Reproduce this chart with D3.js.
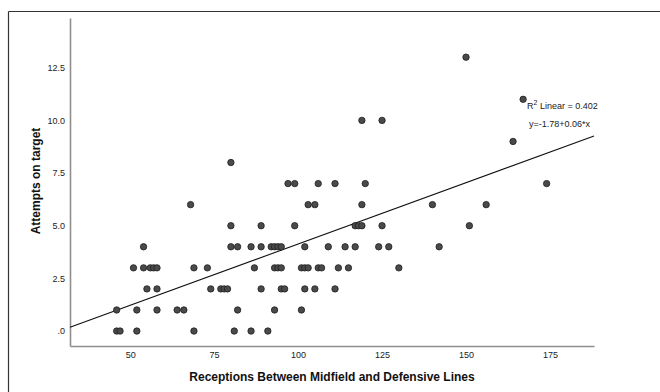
<!DOCTYPE html>
<html>
<head>
<meta charset="utf-8">
<script src="https://cdn.jsdelivr.net/npm/d3@7"></script>
<style>
  body { margin: 0; background: #fff; }
  svg { display: block; font-family: "Liberation Sans", Arial, sans-serif; }
  .tick-label { font-size: 9px; fill: #222; }
  .axis-title { font-size: 12px; font-weight: bold; fill: #111; }
  .fit-label { font-size: 9px; fill: #222; }
</style>
</head>
<body>
<svg id="chart" width="660" height="392"></svg>
<script>
// receptions (x) grouped by attempts on target (y)
const attemptsRows = [0, 1, 2, 3, 4, 5, 6, 7, 8, 9, 10, 11, 13];
const receptionsByRow = [
  [46, 47, 52, 69, 81, 86, 91],
  [46, 52, 58, 64, 66, 82, 93, 101],
  [55, 58, 74, 77, 78, 79, 89, 95, 96, 102, 105, 111],
  [51, 54, 56, 57, 58, 69, 73, 87, 93, 94, 95, 101, 102, 103, 106, 107, 112, 115, 130],
  [54, 80, 82, 86, 89, 92, 93, 94, 95, 102, 109, 114, 117, 124, 127, 142],
  [80, 89, 99, 117, 118, 119, 125, 151],
  [68, 103, 105, 119, 140, 156],
  [97, 99, 106, 111, 120, 174],
  [80],
  [164],
  [119, 125],
  [167],
  [150]
];
const xTicks = [50, 75, 100, 125, 150, 175];
const yTicks = [0, 2.5, 5, 7.5, 10, 12.5];
// fit line as drawn in the picture
const fitIntercept = -1.69;
const fitSlope = 0.0582;
const fitLabels = ["R² Linear = 0.402", "y=-1.78+0.06*x"];

const points = [];
attemptsRows.forEach((y, i) => receptionsByRow[i].forEach(x => points.push({x: x, y: y})));

const svg = d3.select("#chart");
const plotLeft = 70, plotRight = 594, plotTop = 18, plotBottom = 346;

const x = d3.scaleLinear().domain([32.1, 188.1]).range([plotLeft, plotRight]);
const y = d3.scaleLinear().domain([-0.71, 14.86]).range([plotBottom, plotTop]);

// outer frame (top and left edges visible)
svg.append("line").attr("x1", 8.5).attr("x2", 660).attr("y1", 11.5).attr("y2", 11.5)
  .attr("stroke", "#333").attr("stroke-width", 1.2);
svg.append("line").attr("x1", 8.5).attr("x2", 8.5).attr("y1", 11.5).attr("y2", 392)
  .attr("stroke", "#333").attr("stroke-width", 1.2);

// axes
const xAxis = svg.append("g").attr("transform", "translate(0," + plotBottom + ")")
  .call(d3.axisBottom(x).tickValues(xTicks).tickSize(0).tickPadding(6).tickFormat(d3.format("d")));
const yAxis = svg.append("g").attr("transform", "translate(" + plotLeft + ",0)")
  .call(d3.axisLeft(y).tickValues(yTicks).tickSize(0).tickPadding(5)
    .tickFormat(d => d === 0 ? ".0" : d3.format(".1f")(d)));
[xAxis, yAxis].forEach(g => {
  g.attr("font-family", null).attr("font-size", null);
  g.select(".domain").attr("stroke", "#8f8f8f").attr("stroke-width", 1.6);
  g.selectAll("text").attr("class", "tick-label").attr("fill", null);
});

// fit line
const fitX = x.domain();
svg.append("line")
  .attr("x1", x(fitX[0])).attr("y1", y(fitIntercept + fitSlope * fitX[0]))
  .attr("x2", x(fitX[1])).attr("y2", y(fitIntercept + fitSlope * fitX[1]))
  .attr("stroke", "#111").attr("stroke-width", 1.1);

// points
svg.append("g").selectAll("circle")
  .data(points)
  .enter().append("circle")
  .attr("cx", d => x(d.x))
  .attr("cy", d => y(d.y))
  .attr("r", 3.2)
  .attr("fill", "#4a4a4a")
  .attr("stroke", "#1e1e1e")
  .attr("stroke-width", 0.8);

// fit annotation
const r2 = svg.append("text").attr("class", "fit-label").attr("x", 527).attr("y", 109);
r2.append("tspan").text("R");
r2.append("tspan").attr("dy", -4).attr("font-size", "7px").text("2");
r2.append("tspan").attr("dy", 4).text(" Linear = 0.402");
svg.append("text").attr("class", "fit-label").attr("x", 529).attr("y", 127).text(fitLabels[1]);

// axis titles
svg.append("text").attr("class", "axis-title")
  .attr("x", (plotLeft + plotRight) / 2).attr("y", 381)
  .attr("text-anchor", "middle")
  .text("Receptions Between Midfield and Defensive Lines");
svg.append("text").attr("class", "axis-title")
  .attr("transform", "translate(40," + 181 + ") rotate(-90)")
  .attr("text-anchor", "middle")
  .text("Attempts on target");
</script>
</body>
</html>
